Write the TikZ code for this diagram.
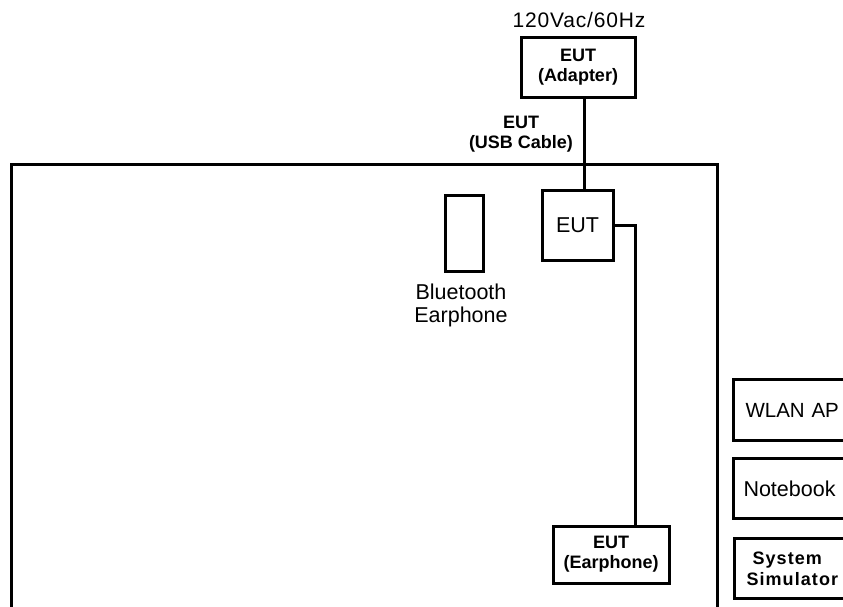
\documentclass[tikz,border=0pt]{standalone}
\usepackage{fontspec}
\setmainfont{Liberation Sans}
\begin{document}
\begin{tikzpicture}[x=1pt,y=-1pt,
  box/.style={draw=black,line width=3pt,inner sep=0pt,align=center},
  reg/.style={font=\fontsize{21.5pt}{23pt}\selectfont},
  bld/.style={font=\fontsize{18pt}{20pt}\selectfont\bfseries},
  wire/.style={draw=black,line width=3pt}]
\useasboundingbox (0,0) rectangle (843,606);
\clip (0,0) rectangle (843,606);
% outer room
\draw[wire] (11,640) -- (11,164) -- (717,164) -- (717,640);
% nodes
\node[font=\fontsize{21pt}{23pt}\selectfont\addfontfeature{LetterSpace=4},anchor=south] (mains) at (579,31) {120Vac/60Hz};
\node[box,bld,minimum width=114pt,minimum height=60pt] (adapter) at (578,67) {EUT\\(Adapter)};
\node[bld,align=center] (usblabel) at (521,134) {EUT\\(USB Cable)};
\node[box,reg,minimum width=71pt,minimum height=70pt] (eut) at (577.5,225) {EUT};
\node[box,minimum width=38pt,minimum height=76pt] (bt) at (464,233) {};
\node[reg,align=center,anchor=north] (btlabel) at (461,280) {Bluetooth\\Earphone};
\node[box,bld,minimum width=116pt,minimum height=57pt] (earphone) at (611,554.5) {EUT\\(Earphone)};
\node[box,font=\fontsize{20.5pt}{23pt}\selectfont,anchor=north west,minimum width=140pt,minimum height=61pt,text width=128pt,align=left,inner xsep=12pt] (wlan) at (732,378) {WLAN AP};
\node[box,reg,anchor=north west,minimum width=140pt,minimum height=60pt,text width=130pt,align=left,inner xsep=10pt] (nb) at (732,457) {Notebook};
\node[box,bld,font=\fontsize{18pt}{21pt}\selectfont\bfseries\addfontfeature{LetterSpace=6},anchor=north west,minimum width=140pt,minimum height=60pt,text width=116pt,align=left,inner xsep=11pt] (sim) at (733,537) {\hspace*{6pt}System\\Simulator};
% connectors
\draw[wire] ([xshift=6pt]adapter.south) -- ([xshift=6pt]adapter.south |- eut.north);
\draw[wire] (eut.east) -| ([xshift=24pt]earphone.north);
\end{tikzpicture}
\end{document}
